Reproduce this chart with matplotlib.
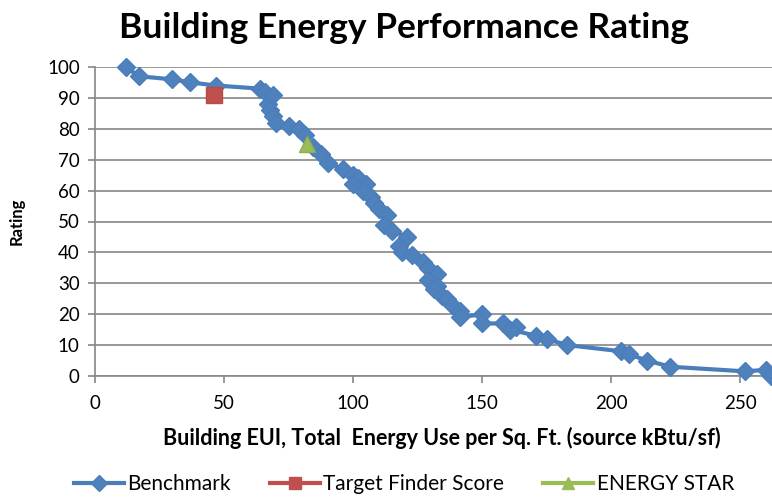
import matplotlib
matplotlib.use('Agg')
import matplotlib.pyplot as plt
from matplotlib.lines import Line2D

plt.rcParams['font.family'] = ['Lato', 'DejaVu Sans']

# benchmark buildings (source EUI, rating)
bench_eui = [12, 17, 30, 37, 47, 64, 66, 69, 67, 68, 69, 70, 75, 79, 81.5, 84.5, 87.5, 90.5,
             96, 100, 102, 105, 100, 104, 107, 108, 110, 113, 112, 115, 121, 118, 119,
             123, 127, 129, 132.5, 129, 132.5, 131.5, 134.5, 136.5, 138.5, 141.5, 141.5, 150, 150,
             158, 163, 161, 171, 175, 183, 204, 207, 214, 223, 252, 260, 262]
bench_rating = [100, 97, 96, 95, 94, 93, 92, 91, 88, 86, 84, 82, 81, 80, 78, 74, 72, 69,
                67, 65, 64, 62, 62, 60, 58, 56, 54, 52, 49, 47, 45, 42, 40,
                39, 37, 35, 33, 31, 29, 28, 26, 25, 23, 21, 19, 20, 17,
                17, 16, 15, 13, 12, 10, 8, 7, 5, 3, 1.5, 2, 0]

target_eui = [46]
target_rating = [91]
star_eui = [82]
star_rating = [75]

blue = '#4A7EBB'
red = '#C0504D'
green = '#9BBB59'
grid = '#868686'

fig = plt.figure(figsize=(7.72, 4.97), dpi=100)
ax = fig.add_axes([95 / 772, 121 / 497, 677 / 772, 309 / 497])

ax.plot(bench_eui, bench_rating, color=blue, lw=3, marker='D', ms=9.5,
        mfc='#4F81BD', mec=blue, zorder=3, clip_on=False)
ax.plot(target_eui, target_rating, ls='none', marker='s', ms=12,
        mfc=red, mec='#B84A47', zorder=4)
ax.plot(star_eui, star_rating, ls='none', marker='^', ms=12,
        mfc=green, mec='#8FAE50', zorder=4)

ax.set_xlim(0, 677 / 2.58)
ax.set_ylim(0, 100)
ax.set_xticks(range(0, 251, 50))
ax.set_yticks(range(0, 101, 10))
ax.grid(axis='y', color=grid, lw=1.2)
ax.set_axisbelow(True)
for s in ['top', 'right']:
    ax.spines[s].set_visible(False)
for s in ['left', 'bottom']:
    ax.spines[s].set_color(grid)
    ax.spines[s].set_linewidth(1.2)
ax.tick_params(colors=grid, length=5, width=1.2, labelcolor='black', labelsize=13.5)
ax.tick_params(axis='x', pad=9)
ax.tick_params(axis='y', pad=6)

ax.set_xlabel('Building EUI, Total  Energy Use per Sq. Ft. (source kBtu/sf)',
              fontsize=15.5, fontweight='bold')
ax.xaxis.set_label_coords(0.513, -0.165)
ax.set_ylabel('Rating', fontsize=12, fontweight='bold', labelpad=16)
fig.suptitle('Building Energy Performance Rating', fontsize=25.5, fontweight='bold',
             x=0.523, y=0.975)

handles = [Line2D([], [], color=blue, lw=3, marker='D', ms=8, mfc='#4F81BD', mec=blue),
           Line2D([], [], color=red, lw=3, marker='s', ms=9, mfc=red, mec=red),
           Line2D([], [], color=green, lw=3, marker='^', ms=9, mfc=green, mec=green)]
fig.legend(handles, ['Benchmark', 'Target Finder Score', 'ENERGY STAR'],
           loc='center', bbox_to_anchor=(0.523, 0.026), ncol=3, frameon=False,
           fontsize=15, handlelength=2.4, columnspacing=1.9, handletextpad=0.15)

fig.savefig('out.png', dpi=100)
